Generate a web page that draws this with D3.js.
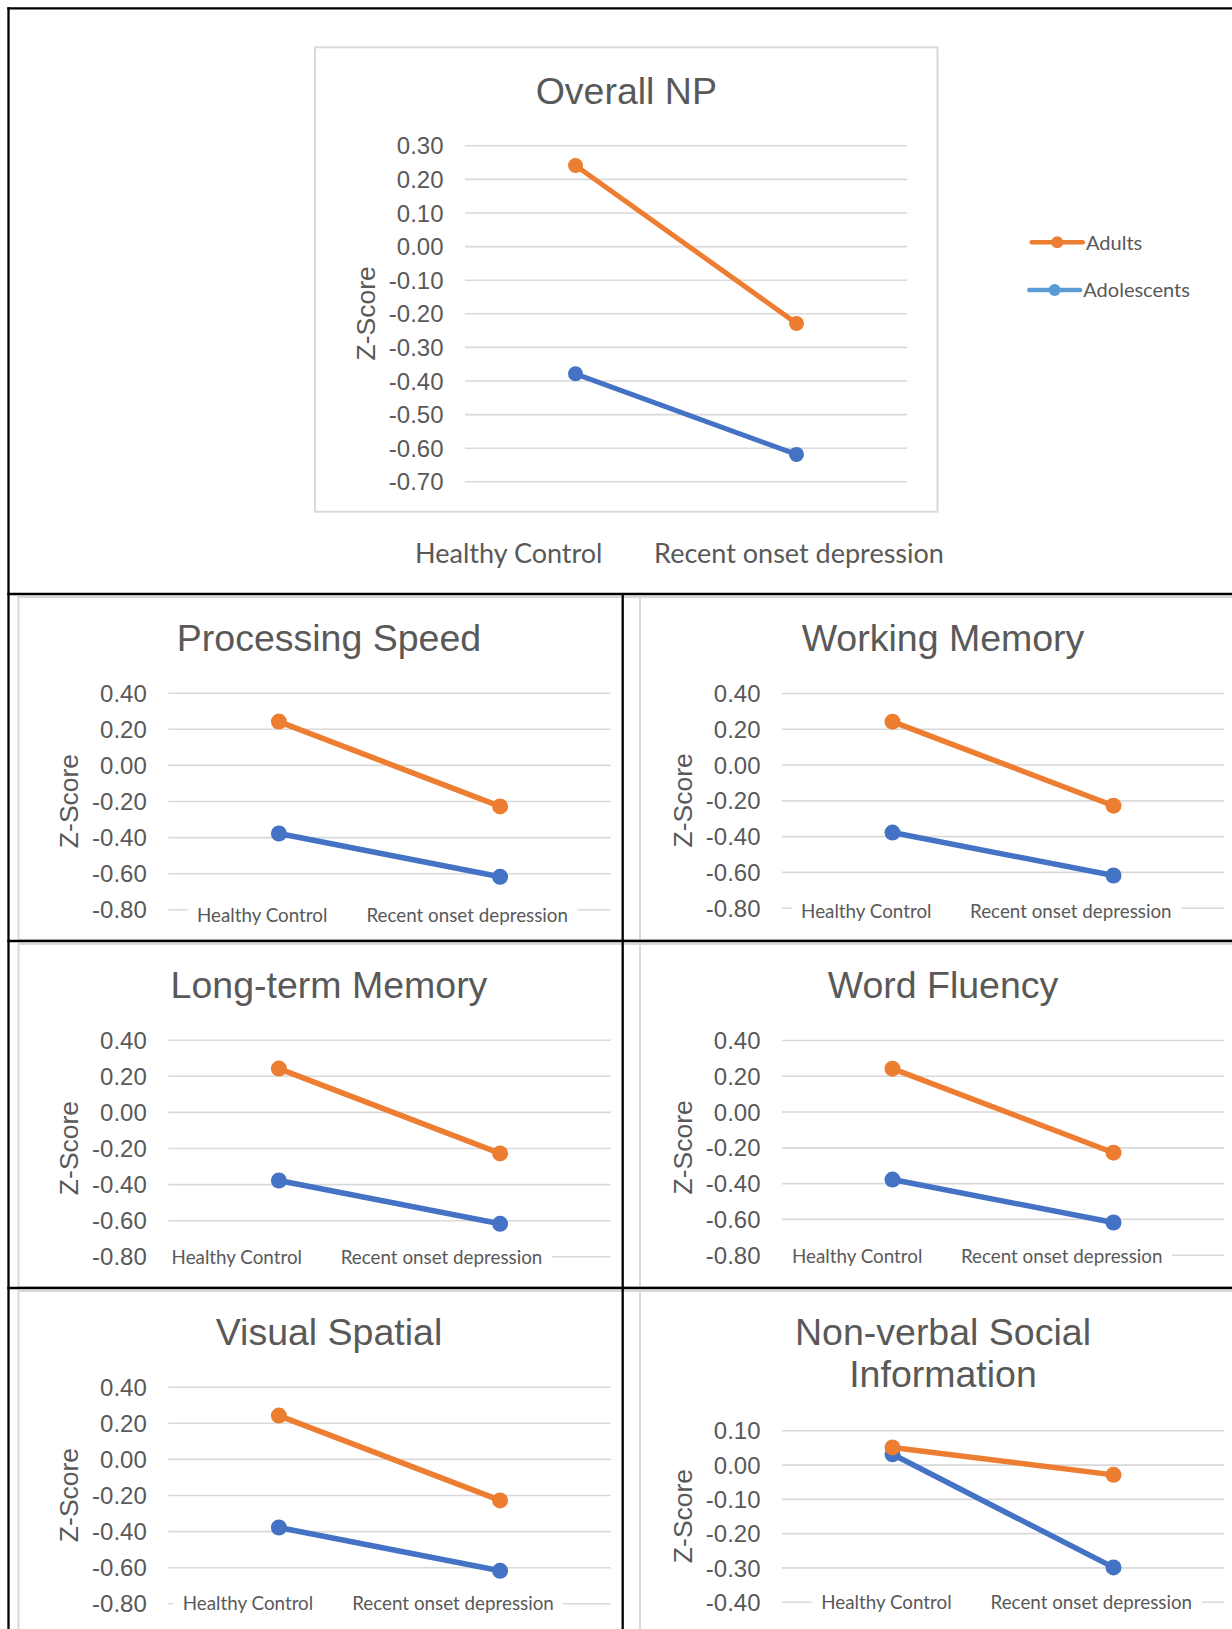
<!DOCTYPE html>
<html>
<head>
<meta charset="utf-8">
<script src="https://cdn.jsdelivr.net/npm/d3@7"></script>
<style>
  html, body { margin: 0; padding: 0; background: #ffffff; }
  svg { display: block; }
</style>
</head>
<body>
<script>
// ---------------- DATA ----------------
const categories = ["Healthy Control", "Recent onset depression"];
const seriesNames = ["Adults", "Adolescents"];
const panelTitles = [
  ["Overall NP"],
  ["Processing Speed"],
  ["Working Memory"],
  ["Long-term Memory"],
  ["Word Fluency"],
  ["Visual Spatial"],
  ["Non-verbal Social", "Information"]
];
const adultsValues = [
  [0.24, -0.23],
  [0.24, -0.23],
  [0.24, -0.23],
  [0.24, -0.23],
  [0.24, -0.23],
  [0.24, -0.23],
  [0.05, -0.03]
];
const adolescentsValues = [
  [-0.38, -0.62],
  [-0.38, -0.62],
  [-0.38, -0.62],
  [-0.38, -0.62],
  [-0.38, -0.62],
  [-0.38, -0.62],
  [0.03, -0.30]
];
const ticksOverall = [0.30, 0.20, 0.10, 0.00, -0.10, -0.20, -0.30, -0.40, -0.50, -0.60, -0.70];
const ticksDomain = [0.40, 0.20, 0.00, -0.20, -0.40, -0.60, -0.80];
const ticksSocial = [0.10, 0.00, -0.10, -0.20, -0.30, -0.40];
const panelTicks = [ticksOverall, ticksDomain, ticksDomain, ticksDomain, ticksDomain, ticksDomain, ticksSocial];
const yAxisTitle = "Z-Score";

// ---------------- STYLE / LAYOUT ----------------
const lineColors = ["#ED7D31", "#4472C4"];
const legendColors = ["#ED7D31", "#5B9BD5"];
const textColor = "#595959";
const gridColor = "#D9D9D9";
const arialFont = "'Liberation Sans', Arial, sans-serif";
const calibriFont = "Lato, 'Open Sans', sans-serif";

const rowTops = [594, 941, 1288];
const catLabelPos = [
  { xs: [508.8, 799.0], y: 563.3 },
  { xs: [262.2, 467.2], y: 922.3 },
  { xs: [866.3, 1070.8], y: 918.3 },
  { xs: [236.8, 441.5], y: 1264.0 },
  { xs: [857.2, 1061.7], y: 1263.3 },
  { xs: [248.0, 453.0], y: 1610.0 },
  { xs: [886.4, 1091.3], y: 1609.3 }
];

const layouts = [];
layouts.push({
  box: [315, 47.3, 622.5, 464.4],
  x0: 465, x1: 907, y0: 145.3, y1: 481.3,
  titleX: 626.3, titleY: [104],
  zX: 365, catSize: 27, mask: false, lw: 5, r: 7.5
});
for (let k = 1; k <= 6; k++) {
  const row = Math.floor((k - 1) / 2), col = (k - 1) % 2;
  const rt = rowTops[row];
  const social = (k === 6);
  if (col === 0) {
    layouts.push({
      box: [18.5, rt + 3, 621.5, 343],
      x0: 168.3, x1: 610.7, y0: rt + 98.7, y1: rt + 315.3,
      titleX: 329, titleY: [rt + 56.5],
      zX: 68, catSize: 18.8, mask: true, lw: 5.5, r: 8
    });
  } else {
    layouts.push({
      box: [640, rt + 3, 620, 343],
      x0: 782, x1: 1224,
      y0: social ? rt + 142.3 : rt + 99, y1: rt + 313.7,
      titleX: 943, titleY: social ? [rt + 57, rt + 98.7] : [rt + 56.5],
      zX: 682.5, catSize: 18.8, mask: true, lw: 5.5, r: 8
    });
  }
}

const fmt = d3.formatLocale({ decimal: ".", thousands: ",", grouping: [3], currency: ["", ""], minus: "-" }).format(".2f");

const svg = d3.select("body").append("svg")
  .attr("width", 1232).attr("height", 1629)
  .style("background", "#ffffff");

function drawPanel(i) {
  const p = layouts[i];
  const ticks = panelTicks[i];
  const g = svg.append("g");

  // chart area border
  g.append("rect")
    .attr("x", p.box[0]).attr("y", p.box[1])
    .attr("width", p.box[2]).attr("height", p.box[3])
    .attr("fill", "#ffffff").attr("stroke", gridColor).attr("stroke-width", 2);

  // title
  const title = g.append("text")
    .attr("text-anchor", "middle")
    .attr("font-family", arialFont).attr("font-size", 37.5)
    .attr("fill", textColor);
  panelTitles[i].forEach((ln, j) => {
    title.append("tspan").attr("x", p.titleX).attr("y", p.titleY[j]).text(ln);
  });

  // scales
  const y = d3.scaleLinear().domain([d3.min(ticks), d3.max(ticks)]).range([p.y1, p.y0]);
  const x = d3.scaleBand().domain(categories).range([p.x0, p.x1]).padding(0);
  const cx = c => x(c) + x.bandwidth() / 2;

  // y axis with gridlines
  const axis = d3.axisLeft(y)
    .tickValues(ticks).tickFormat(fmt)
    .tickSizeInner(-(p.x1 - p.x0)).tickSizeOuter(0).tickPadding(21.5);
  const ag = g.append("g").attr("transform", `translate(${p.x0},0)`).call(axis);
  ag.select(".domain").remove();
  ag.selectAll(".tick line").attr("stroke", gridColor).attr("stroke-width", 1.6);
  ag.selectAll(".tick text")
    .attr("fill", textColor).attr("font-family", arialFont).attr("font-size", 24)
    .attr("dy", "0.36em");

  // axis title
  g.append("text")
    .attr("transform", `translate(${p.zX},${(p.y0 + p.y1) / 2}) rotate(-90)`)
    .attr("text-anchor", "middle").attr("dy", "0.36em")
    .attr("font-family", arialFont).attr("font-size", 26.5)
    .attr("fill", textColor).text(yAxisTitle);

  // category labels (masking the baseline gridline between them)
  const cl = catLabelPos[i];
  const bg = g.append("rect").attr("fill", "#ffffff");
  const boxes = [];
  categories.forEach((c, j) => {
    const t = g.append("text")
      .attr("x", cl.xs[j]).attr("y", cl.y)
      .attr("text-anchor", "middle")
      .attr("font-family", calibriFont).attr("font-size", p.catSize)
      .attr("fill", textColor).text(c);
    boxes.push(t.node().getBBox());
  });
  if (p.mask) {
    const left = boxes[0].x - 9.5;
    const right = boxes[1].x + boxes[1].width + 9.5;
    const top = Math.min(boxes[0].y, boxes[1].y);
    const h = Math.max(boxes[0].height, boxes[1].height);
    bg.attr("x", left).attr("y", top).attr("width", right - left).attr("height", h);
  } else {
    bg.remove();
  }

  // series lines + markers (Adolescents first so Adults draws on top)
  const seriesData = [adultsValues[i], adolescentsValues[i]];
  const line = d3.line().x(d => cx(d.c)).y(d => y(d.v));
  [1, 0].forEach(s => {
    const pts = categories.map((c, j) => ({ c: c, v: seriesData[s][j] }));
    g.append("path").datum(pts)
      .attr("d", line).attr("fill", "none")
      .attr("stroke", lineColors[s]).attr("stroke-width", p.lw)
      .attr("stroke-linecap", "round");
    g.selectAll(null).data(pts).enter().append("circle")
      .attr("cx", d => cx(d.c)).attr("cy", d => y(d.v)).attr("r", p.r)
      .attr("fill", lineColors[s]);
  });
}

for (let i = 0; i < layouts.length; i++) drawPanel(i);

// legend (top chart)
const legendItems = [
  { x1: 1031.7, x2: 1082.7, y: 242.3, tx: 1086, ty: 249.5 },
  { x1: 1029.3, x2: 1080.0, y: 290.0, tx: 1083.3, ty: 296.5 }
];
seriesNames.forEach((name, s) => {
  const L = legendItems[s];
  svg.append("line").attr("x1", L.x1).attr("x2", L.x2).attr("y1", L.y).attr("y2", L.y)
    .attr("stroke", legendColors[s]).attr("stroke-width", 4.5).attr("stroke-linecap", "round");
  svg.append("circle").attr("cx", (L.x1 + L.x2) / 2).attr("cy", L.y).attr("r", 6)
    .attr("fill", legendColors[s]);
  svg.append("text").attr("x", L.tx).attr("y", L.ty)
    .attr("font-family", calibriFont).attr("font-size", 20)
    .attr("fill", textColor).text(name);
});

// table borders
const tableLines = [
  [7.3, 8.3, 1232, 8.3],
  [8.5, 7.3, 8.5, 1629],
  [7.3, 594, 1232, 594],
  [7.3, 941, 1232, 941],
  [7.3, 1288, 1232, 1288],
  [622.7, 594, 622.7, 1629]
];
svg.selectAll(".tbl").data(tableLines).enter().append("line")
  .attr("x1", d => d[0]).attr("y1", d => d[1]).attr("x2", d => d[2]).attr("y2", d => d[3])
  .attr("stroke", "#000000").attr("stroke-width", 2.3);
</script>
</body>
</html>
